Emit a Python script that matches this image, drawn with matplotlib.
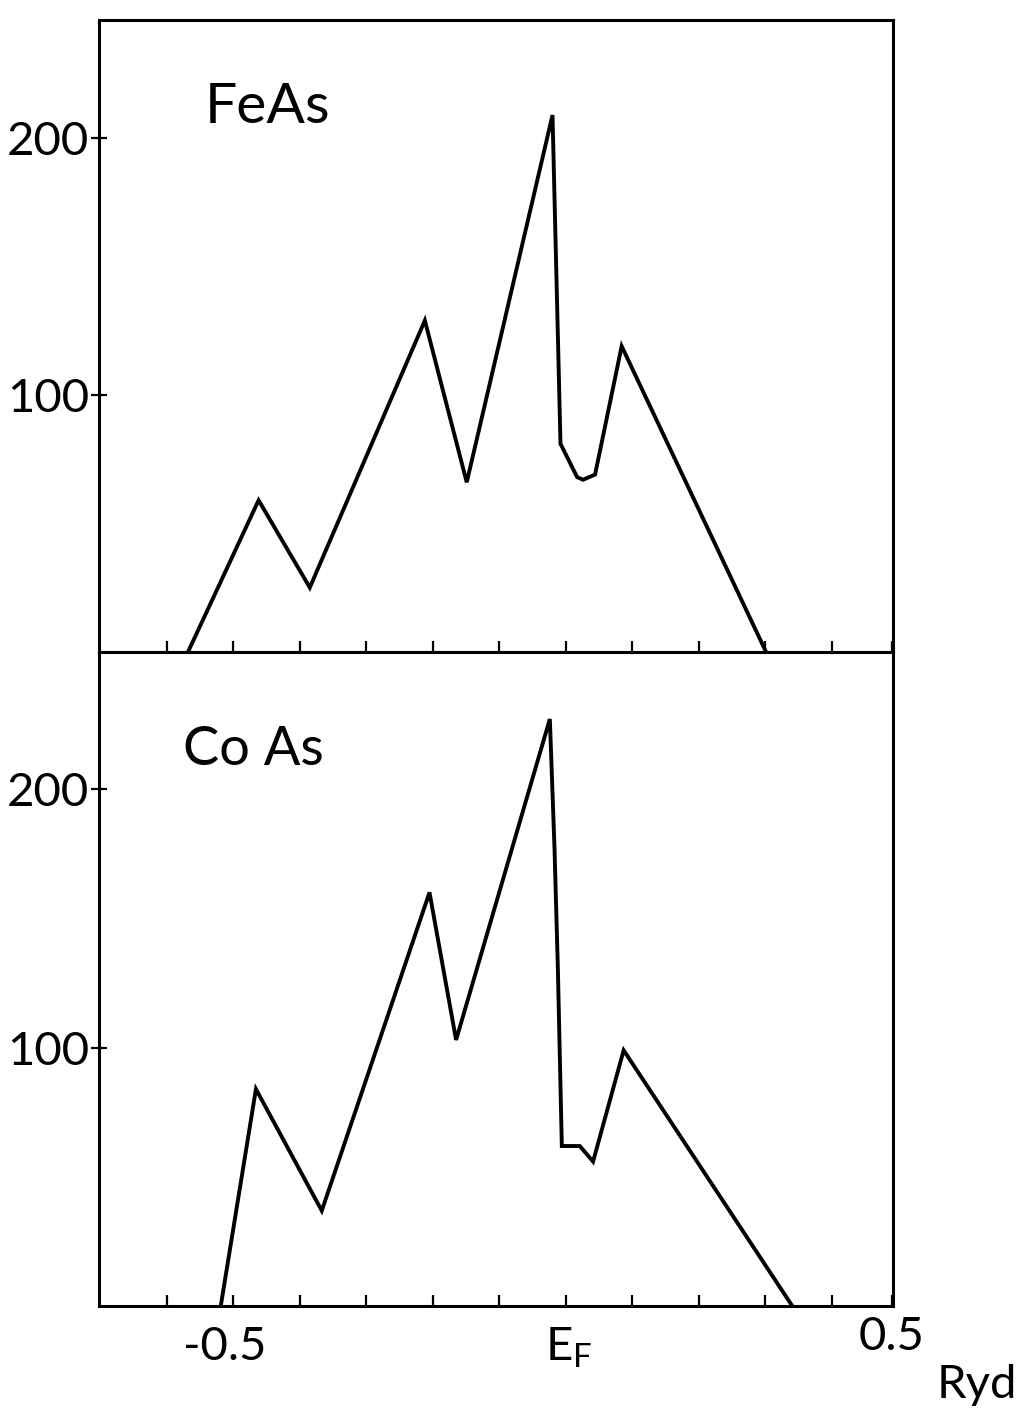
import numpy as np
import matplotlib
matplotlib.use("Agg")
import matplotlib.pyplot as plt
from matplotlib.transforms import ScaledTranslation

plt.rcParams['font.family'] = ['Lato', 'DejaVu Sans']
plt.rcParams['mathtext.default'] = 'regular'

# energy (Ryd, relative to E_F) and density of states
feas_e = [-0.568, -0.462, -0.385, -0.212, -0.149, -0.020, -0.008, 0.017, 0.026, 0.044, 0.084, 0.301]
feas_dos = [0, 59, 25, 129, 66, 209, 81, 68, 67, 69, 119, 0]

coas_e = [-0.519, -0.466, -0.367, -0.205, -0.165, -0.024, -0.017, -0.012, -0.006, 0.021, 0.041, 0.087, 0.341]
coas_dos = [0, 84, 37, 160, 103, 227, 177, 131, 62, 62, 56, 99, 0]

labels = ['FeAs', 'Co As']
yticks = [100, 200]
xtick_pos = [-0.5, 0.0, 0.49]
xtick_labels = ['-0.5', r'$E_F$', '0.5']
minor_x = [-0.6, -0.5, -0.4, -0.3, -0.2, -0.1, 0.0, 0.1, 0.2, 0.3, 0.4]

fig = plt.figure(figsize=(10.27, 14.13), dpi=100)
gs = fig.add_gridspec(2, 1, height_ratios=[632, 655], hspace=0,
                      left=0.0964, right=0.8695, top=0.9858, bottom=0.0754)
ax1 = fig.add_subplot(gs[0])
ax2 = fig.add_subplot(gs[1], sharex=ax1)

lw = 2.8
ax1.plot(feas_e, feas_dos, color='black', lw=lw, solid_joinstyle='miter')
ax2.plot(coas_e, coas_dos, color='black', lw=lw, solid_joinstyle='miter')

ax1.set_ylim(0, 246)
ax2.set_ylim(0, 253)
ax1.set_xlim(-0.702, 0.492)

for ax, lab, fs, (tx, ty) in zip([ax1, ax2], labels, [41, 39],
                                 [(0.1335, 0.837), (0.106, 0.827)]):
    for sp in ax.spines.values():
        sp.set_linewidth(2.2)
    ax.set_yticks(yticks)
    ax.set_yticklabels([str(v) for v in yticks])
    ax.tick_params(axis='y', direction='inout', length=12, width=1.6,
                   labelsize=34, pad=1)
    ax.set_xticks(minor_x, minor=True)
    ax.tick_params(axis='x', which='both', direction='in', length=8, width=1.6)
    ax.text(tx, ty, lab, transform=ax.transAxes, fontsize=fs,
            ha='left', va='baseline')

ax2.set_xticks(xtick_pos)
ax2.set_xticklabels(xtick_labels)
ax2.tick_params(axis='x', which='major', labelsize=34, pad=14)
ax1.tick_params(axis='x', labelbottom=False)

# nudge labels like the hand-lettered original
shifts = [(-0.09, 0), (0.03, 0), (0, 0.1)]
for t, (dx, dy) in zip(ax2.get_xticklabels(), shifts):
    t.set_transform(t.get_transform() + ScaledTranslation(dx, dy, fig.dpi_scale_trans))

fig.text(0.9512, 0.0197, 'Ryd', fontsize=34, ha='center', va='center')

fig.savefig('out.png', dpi=100)
